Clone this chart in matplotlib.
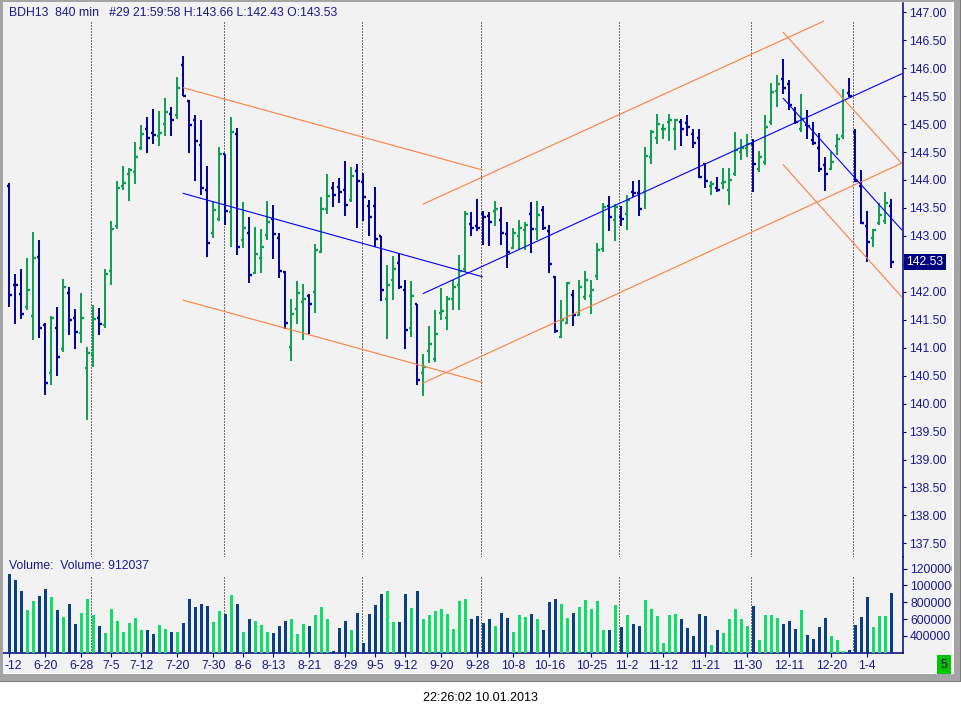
import numpy as np
import matplotlib
matplotlib.use("Agg")
import matplotlib.pyplot as plt
from matplotlib.patches import Rectangle
from matplotlib.transforms import Bbox, TransformedBbox

plt.rcParams['font.family'] = ['Liberation Sans', 'DejaVu Sans']

# ---------------- data (BDH13, 840 min bars) ----------------
OPEN = [143.89, 142.13, 141.96, 141.72, 141.56, 142.62, 141.40, 140.54, 141.36, 140.97,
        141.97, 141.54, 141.26, 140.63, 140.88, 141.54, 141.40, 142.37, 143.17, 143.90,
        144.10, 144.14, 144.58, 144.91, 144.84, 144.78, 145.01, 145.18, 145.16, 146.05,
        145.41, 145.07, 144.62, 143.82, 143.05, 143.30, 144.46, 143.42, 144.82, 142.92,
        143.05, 142.33, 142.60, 143.01, 143.30, 142.97, 142.35, 141.02, 141.70, 141.81,
        141.92, 141.99, 142.71, 143.48, 143.85, 143.87, 143.83, 143.64, 144.16, 143.96,
        143.54, 143.54, 142.99, 141.88, 142.22, 142.51, 142.03, 141.35, 141.79, 140.54,
        140.94, 140.79, 141.62, 141.53, 141.88, 142.12, 142.40, 143.21, 143.18, 143.40,
        143.36, 143.44, 143.28, 143.03, 142.78, 142.99, 143.10, 143.39, 143.12, 143.46,
        143.08, 142.27, 141.20, 141.45, 141.94, 141.58, 141.90, 141.92, 142.28, 142.76,
        143.53, 143.28, 143.33, 143.39, 143.79, 143.76, 143.78, 144.41, 144.75, 144.91,
        145.04, 144.91, 145.04, 145.02, 144.82, 144.76, 144.28, 143.89, 143.86, 143.94,
        143.82, 144.10, 144.50, 144.58, 144.64, 144.19, 144.33, 145.03, 145.59, 145.80,
        145.71, 145.25, 144.91, 144.98, 144.72, 144.57, 144.26, 144.19, 144.60, 144.78,
        145.56, 144.85, 143.90, 143.18, 142.96, 143.23, 143.27, 143.53]
HIGH = [143.94, 142.32, 142.41, 142.61, 143.07, 142.93, 141.44, 141.56, 141.72, 142.23,
        142.09, 141.69, 141.98, 141.01, 141.76, 141.71, 142.41, 143.27, 143.98, 144.25,
        144.22, 144.68, 144.98, 145.13, 145.27, 145.23, 145.47, 145.31, 145.84, 146.22,
        145.44, 145.16, 145.07, 144.25, 143.62, 144.59, 144.46, 145.13, 144.93, 143.61,
        143.34, 143.16, 143.12, 143.62, 143.55, 143.05, 142.37, 141.87, 142.19, 142.14,
        141.96, 142.86, 143.70, 144.11, 143.96, 144.04, 144.34, 144.23, 144.29, 144.13,
        143.65, 143.88, 143.00, 142.48, 142.64, 142.70, 142.21, 142.19, 141.79, 140.88,
        141.39, 141.68, 142.07, 141.92, 142.21, 142.66, 143.45, 143.42, 143.66, 143.44,
        143.42, 143.62, 143.52, 143.24, 143.15, 143.28, 143.24, 143.61, 143.62, 143.54,
        143.19, 142.28, 141.85, 142.17, 142.03, 142.21, 142.37, 142.21, 142.88, 143.58,
        143.72, 143.57, 143.54, 143.74, 143.98, 144.00, 144.59, 144.90, 145.18, 145.01,
        145.18, 145.10, 145.09, 145.16, 144.92, 144.92, 144.30, 143.98, 144.06, 144.21,
        144.21, 144.86, 144.74, 144.82, 144.73, 144.52, 145.17, 145.73, 145.88, 146.16,
        145.78, 145.31, 145.54, 145.25, 145.03, 144.84, 144.41, 144.50, 144.82, 145.63,
        145.82, 144.91, 144.18, 143.45, 143.13, 143.58, 143.79, 143.66]
LOW = [141.73, 141.43, 141.52, 141.68, 141.13, 141.18, 140.16, 140.34, 140.50, 140.93,
       141.23, 140.97, 141.09, 139.71, 140.66, 141.23, 141.36, 142.13, 143.12, 143.83,
       143.62, 143.92, 144.54, 144.49, 144.65, 144.60, 144.79, 144.79, 145.10, 145.51,
       144.49, 143.99, 143.74, 142.63, 142.97, 143.27, 143.20, 142.81, 142.66, 142.79,
       142.15, 142.31, 142.34, 142.92, 142.59, 142.25, 141.33, 140.77, 141.43, 141.13,
       141.25, 141.62, 142.69, 143.39, 143.52, 143.59, 143.36, 143.61, 143.15, 143.27,
       143.00, 142.81, 141.84, 141.16, 141.86, 142.05, 140.97, 141.20, 140.33, 140.14,
       140.73, 140.75, 141.50, 141.32, 141.68, 141.68, 142.35, 143.00, 143.08, 142.84,
       142.82, 143.17, 142.84, 142.43, 142.76, 142.76, 142.74, 142.70, 142.92, 143.10,
       142.34, 141.27, 141.18, 141.43, 141.38, 141.56, 141.85, 141.61, 142.22, 142.72,
       143.08, 142.90, 143.18, 143.11, 143.70, 143.36, 143.49, 144.29, 144.64, 144.74,
       144.69, 144.54, 144.61, 144.78, 144.58, 144.03, 143.85, 143.74, 143.78, 143.84,
       143.56, 144.08, 144.35, 144.42, 143.79, 144.15, 144.26, 144.99, 145.31, 145.54,
       145.25, 145.01, 144.85, 144.74, 144.62, 144.14, 143.81, 144.18, 144.45, 144.74,
       145.48, 143.97, 143.21, 142.54, 142.81, 143.19, 143.21, 142.43]
CLOSE = [141.95, 142.12, 141.60, 142.04, 142.60, 141.35, 140.36, 141.53, 140.83, 142.08,
         141.49, 141.28, 141.54, 140.90, 141.51, 141.42, 142.31, 143.12, 143.85, 143.94,
         144.17, 144.41, 144.82, 144.76, 144.80, 144.84, 145.21, 145.07, 145.64, 145.51,
         144.98, 144.69, 143.85, 142.87, 143.46, 144.46, 143.44, 144.85, 142.81, 143.15,
         142.30, 142.67, 142.81, 143.24, 143.03, 142.38, 141.45, 141.60, 141.97, 141.87,
         141.79, 142.74, 143.49, 143.71, 143.73, 143.78, 143.55, 144.07, 143.99, 143.69,
         143.33, 142.94, 142.03, 142.12, 142.40, 142.08, 141.31, 141.92, 140.43, 140.65,
         141.06, 141.24, 141.65, 141.87, 142.08, 142.38, 143.40, 143.15, 143.15, 143.33,
         143.24, 143.49, 143.06, 142.72, 143.06, 143.14, 143.19, 143.12, 143.37, 143.15,
         142.49, 141.29, 141.49, 142.15, 141.58, 142.08, 142.21, 142.03, 142.74, 143.51,
         143.33, 143.51, 143.31, 143.64, 143.76, 143.49, 144.43, 144.85, 145.00, 144.92,
         145.07, 145.07, 144.92, 144.94, 144.66, 144.05, 143.98, 143.92, 143.82, 143.96,
         144.00, 144.54, 144.58, 144.64, 144.28, 144.41, 144.94, 145.57, 145.71, 145.64,
         145.34, 145.04, 145.09, 144.97, 144.67, 144.19, 144.10, 144.33, 144.73, 145.44,
         145.51, 143.98, 143.23, 142.89, 143.10, 143.38, 143.59, 142.53]
VOLUME = [1135000, 1064000, 933000, 708000, 815000, 874000, 957000, 862000, 708000, 625000,
          779000, 542000, 672000, 838000, 649000, 518000, 435000, 720000, 577000, 447000,
          554000, 613000, 471000, 471000, 423000, 530000, 482000, 447000, 447000, 554000,
          838000, 744000, 779000, 755000, 565000, 696000, 660000, 886000, 779000, 447000,
          601000, 577000, 530000, 447000, 435000, 518000, 577000, 601000, 423000, 542000,
          518000, 649000, 744000, 601000, 225000, 494000, 577000, 471000, 672000, 316000,
          660000, 767000, 898000, 933000, 565000, 565000, 898000, 732000, 933000, 601000,
          649000, 696000, 720000, 660000, 482000, 815000, 838000, 601000, 637000, 554000,
          601000, 518000, 672000, 613000, 447000, 649000, 625000, 660000, 601000, 471000,
          803000, 838000, 779000, 613000, 672000, 744000, 827000, 720000, 815000, 471000,
          471000, 767000, 506000, 649000, 542000, 518000, 827000, 720000, 637000, 316000,
          649000, 660000, 601000, 494000, 399000, 660000, 637000, 293000, 471000, 435000,
          601000, 720000, 601000, 518000, 755000, 352000, 649000, 649000, 613000, 542000,
          577000, 482000, 708000, 411000, 364000, 506000, 613000, 399000, 352000, 221000,
          233000, 530000, 625000, 862000, 506000, 637000, 637000, 912037]

# x labels sit under specific bars (bar index); the first one is cut to "-12" by the window edge
TICK_BARS = [0, 6, 12, 17, 22, 28, 34, 39, 44, 50, 56, 61, 66, 72, 78,
             84, 90, 97, 103, 109, 116, 123, 130, 137, 143]
TICK_LABELS = ["", "6-20", "6-28", "7-5", "7-12", "7-20", "7-30", "8-6", "8-13", "8-21",
               "8-29", "9-5", "9-12", "9-20", "9-28", "10-8", "10-16", "10-25", "11-2", "11-12",
               "11-21", "11-30", "12-11", "12-20", "1-4"]
FIRST_LABEL = "-12"
MONTH_FIRST_BAR = [14, 36, 59, 79, 102, 124, 141]

PRICE_TICKS = [137.5 + 0.5 * i for i in range(20)]
VOL_TICKS = [400000, 600000, 800000, 1000000, 1200000]

# hand-drawn trend channels: (bar index pair, price pair)
CH1_X, CH1_UP, CH1_MID, CH1_LO = [29.0, 78.83], [145.65, 144.18], [143.76, 142.27], [141.85, 140.38]
CH2_XUP, CH2_UP = [69.0, 135.73], [143.57, 146.84]
CH2_X, CH2_MID, CH2_LO = [69.0, 148.73], [141.97, 145.90], [140.37, 144.30]
CH3_X, CH3_UP, CH3_MID, CH3_LO = [129.0, 148.73], [146.64, 144.30], [145.46, 143.11], [144.27, 141.91]

TITLE = "BDH13  840 min   #29 21:59:58 H:143.66 L:142.43 O:143.53"
VOL_TITLE = "Volume:  Volume: 912037"
STAMP = "22:26:02 10.01.2013"

# ---------------- style ----------------
W, H = 961, 716
BG = "#F2F2F2"
NAVY, GREEN = "#00009A", "#0E9E50"
VNAVY, VGREEN = "#0A3F86", "#12DC6A"
AXC = "#000080"
TXT = "#181890"
ORANGE, BLUE = "#FF7F3F", "#0000FF"
GRID = "#707070"

def fx(x): return x / W
def fy(y): return 1 - y / H
def prect(x0, y0, x1, y1, color, z=5):
    fig.add_artist(Rectangle((fx(x0), fy(y1)), (x1 - x0) / W, (y1 - y0) / H,
                             transform=fig.transFigure, facecolor=color, edgecolor="none", zorder=z))

fig = plt.figure(figsize=(W / 100, H / 100), dpi=100, facecolor="white")
prect(3, 2, 952, 673, BG, z=-5)

ax_p = fig.add_axes([fx(3), fy(557), 900 / W, 554 / H], facecolor=BG)
ax_v = fig.add_axes([fx(3), fy(653), 900 / W, 96 / H], facecolor=BG)

x = np.arange(len(CLOSE))
up = np.array(CLOSE) >= np.array(OPEN)
pcol = np.where(up, GREEN, NAVY)
vcol = np.where(up, VGREEN, VNAVY)
XLIM = ((3 - 9.3) / 6, (903 - 9.3) / 6)

# ---- price panel ----
for m in MONTH_FIRST_BAR:
    ax_p.axvline(m - 0.3, ymin=0, ymax=(557 - 21) / 554, color=GRID, lw=0.72,
                 ls=(0, (1.4, 1.4)), antialiased=False, zorder=1)
ax_p.vlines(x, LOW, HIGH, colors=pcol, lw=1.4, zorder=3)
ax_p.hlines(OPEN, x - 0.38, x, colors=pcol, lw=1.7, zorder=3)
ax_p.hlines(CLOSE, x, x + 0.4, colors=pcol, lw=1.7, zorder=3)

for xs, ys, c in [(CH1_X, CH1_UP, ORANGE), (CH1_X, CH1_MID, BLUE), (CH1_X, CH1_LO, ORANGE),
                  (CH2_XUP, CH2_UP, ORANGE), (CH2_X, CH2_MID, BLUE), (CH2_X, CH2_LO, ORANGE),
                  (CH3_X, CH3_UP, ORANGE), (CH3_X, CH3_MID, BLUE), (CH3_X, CH3_LO, ORANGE)]:
    ax_p.plot(xs, ys, color=c, lw=0.8, zorder=4)

ax_p.set_xlim(*XLIM)
ax_p.set_ylim(147 - (557 - 12.3) / 55.9, 147 + (12.3 - 3) / 55.9)
ax_p.yaxis.tick_right()
ax_p.set_yticks(PRICE_TICKS)
ax_p.set_yticklabels(["" if abs(v - 142.5) < 1e-6 else f"{v:.2f}" for v in PRICE_TICKS])
ax_p.set_xticks([])
ax_p.tick_params(axis="y", direction="out", length=2.2, width=0.8, pad=2.2,
                 colors=AXC, labelcolor=TXT, labelsize=8.8)
for s in ["top", "left", "bottom"]:
    ax_p.spines[s].set_visible(False)
ax_p.spines["right"].set_color(AXC)
ax_p.spines["right"].set_linewidth(1.1)

# ---- volume panel ----
for m in MONTH_FIRST_BAR:
    ax_v.axvline(m - 0.3, ymin=0, ymax=(653 - 575) / 96, color=GRID, lw=0.72,
                 ls=(0, (1.4, 1.4)), antialiased=False, zorder=1)
ax_v.bar(x, VOLUME, width=0.52, color=vcol, zorder=3)
ax_v.set_xlim(*XLIM)
ax_v.set_ylim(197600, 1336900)
ax_v.yaxis.tick_right()
ax_v.set_yticks(VOL_TICKS)
ax_v.set_yticklabels([str(v) for v in VOL_TICKS])
ax_v.set_xticks(TICK_BARS)
ax_v.set_xticklabels(TICK_LABELS)
ax_v.tick_params(axis="both", direction="out", length=2.9, width=0.8, pad=2.2,
                 colors=AXC, labelcolor=TXT, labelsize=8.8)
ax_v.spines["top"].set_visible(False)
ax_v.spines["left"].set_visible(False)
for s in ["right", "bottom"]:
    ax_v.spines[s].set_color(AXC)
    ax_v.spines[s].set_linewidth(1.1)

# long volume labels are cut by the window edge
clip = TransformedBbox(Bbox.from_extents(0, 0, 951.7 / W, 1), fig.transFigure)
for t in ax_v.yaxis.get_major_ticks():
    t.label2.set_clip_box(clip)
    t.label2.set_clip_on(True)

# ---- texts ----
fig.text(fx(4.5), fy(666), FIRST_LABEL, color=TXT, fontsize=8.8, va="center", ha="left")
fig.text(fx(9), fy(13), TITLE, color=TXT, fontsize=8.8, va="center", ha="left")
fig.text(fx(9), fy(566), VOL_TITLE, color=TXT, fontsize=8.8, va="center", ha="left")
last_y = 12.3 + (147 - CLOSE[-1]) * 55.9
fig.text(fx(906.5), fy(last_y), f"{CLOSE[-1]:.2f}", color="white", fontsize=8.8, va="center", ha="left",
         bbox=dict(boxstyle="square,pad=0.18", facecolor="#000080", edgecolor="none"), zorder=10)
fig.text(fx(944), fy(664.5), "5", color="#000040", fontsize=8.8, va="center", ha="center",
         bbox=dict(boxstyle="square,pad=0.3", facecolor="#00C400", edgecolor="none"), zorder=10)
fig.text(fx(480), fy(698), STAMP, color="black", fontsize=9, va="center", ha="center")

# ---- window frame ----
FR = "#A4A4A4"
prect(0, 0, 961, 2, FR)
prect(0, 0, 3, 682, FR)
prect(953.7, 0, 961, 682, FR)
prect(0, 674.3, 961, 682, FR)
prect(951.7, 2, 953.7, 674.3, "white")
prect(3, 672.7, 953.7, 674.3, "white")
prect(959.8, 0, 961, 682, "#7A7A7A")
prect(0, 680.8, 961, 682, "#7A7A7A")

fig.savefig("out.png", dpi=100, facecolor="white")
